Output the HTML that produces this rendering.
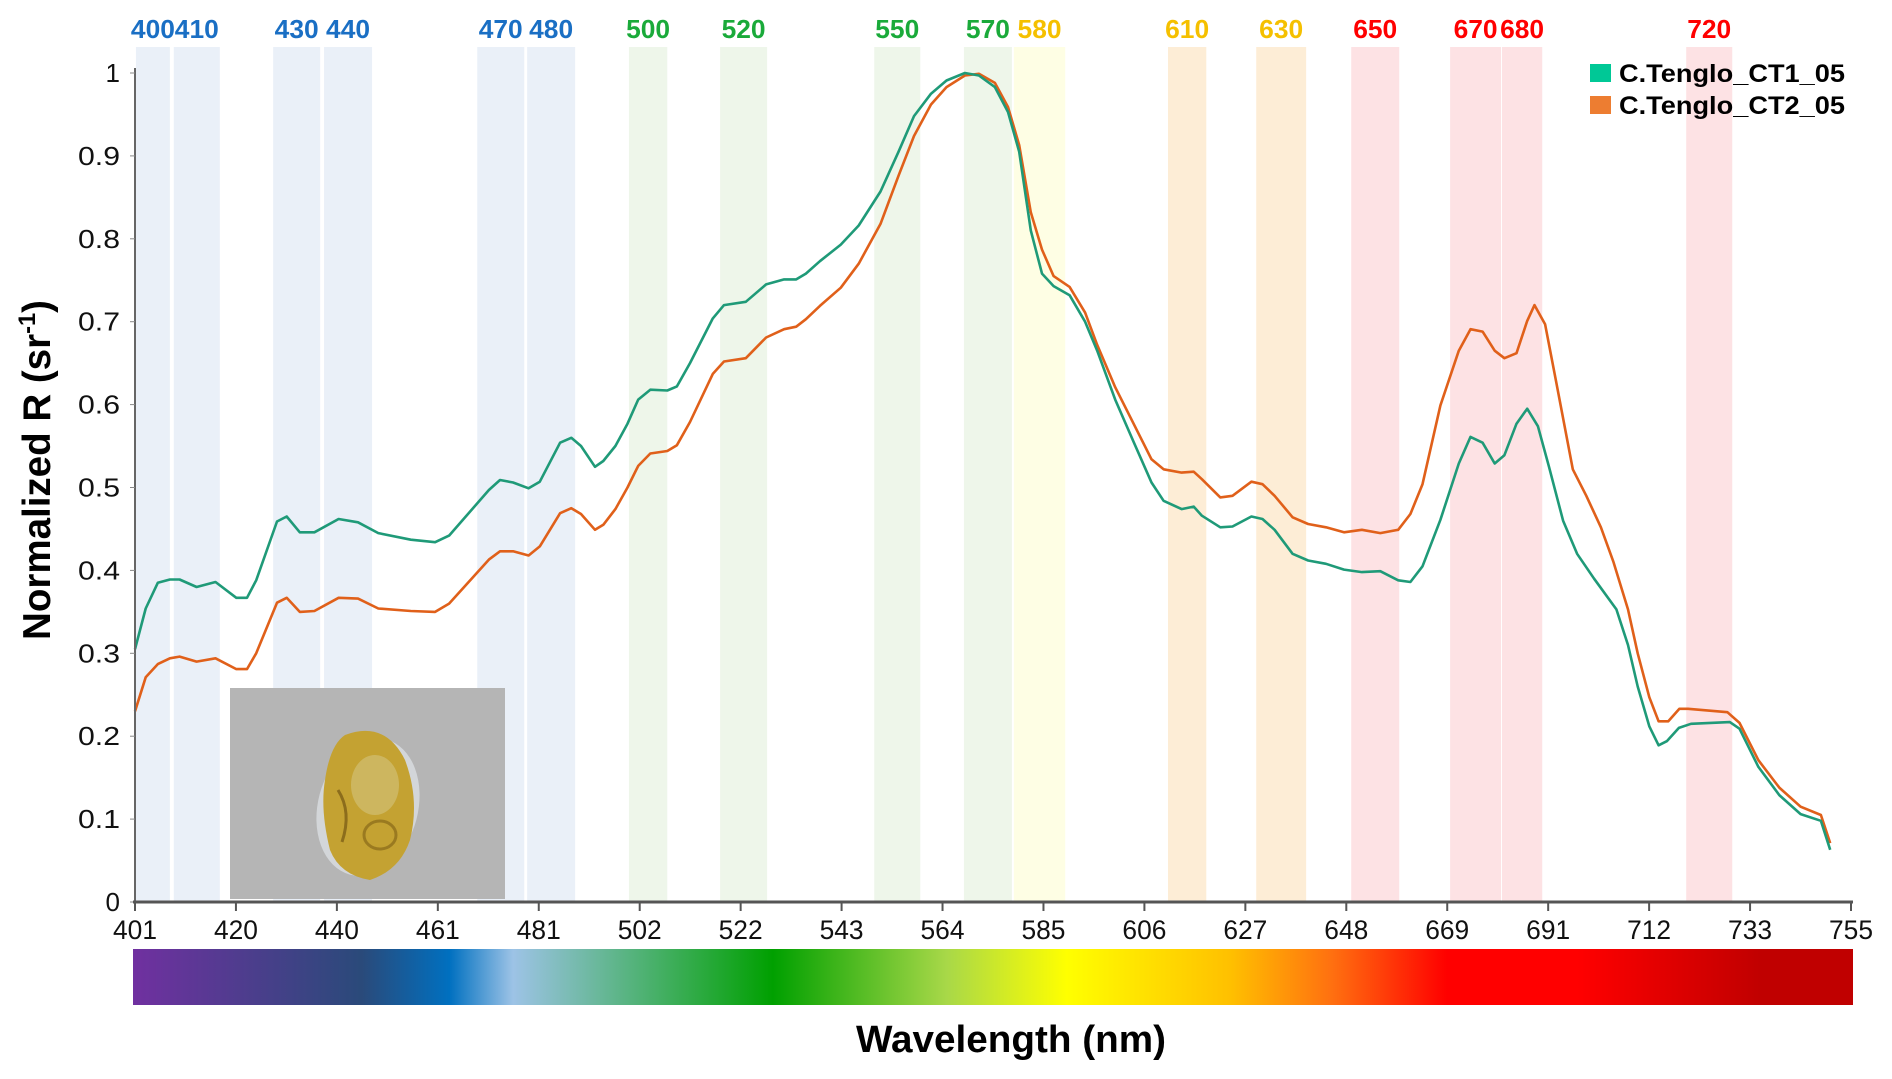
<!DOCTYPE html>
<html><head><meta charset="utf-8"><style>
html,body{margin:0;padding:0;background:#fff;}
svg{display:block;font-family:"Liberation Sans",sans-serif;}
</style></head><body>
<svg id="chart" width="1892" height="1079" viewBox="0 0 1892 1079" xmlns="http://www.w3.org/2000/svg">
<defs>
<linearGradient id="spec" x1="0" x2="1" y1="0" y2="0">
<stop offset="0" stop-color="#7030a0"/><stop offset="0.133" stop-color="#2a4a7a"/><stop offset="0.184" stop-color="#0070c0"/>
<stop offset="0.221" stop-color="#9dc3e6"/><stop offset="0.372" stop-color="#00a000"/><stop offset="0.473" stop-color="#a8d848"/>
<stop offset="0.543" stop-color="#ffff00"/><stop offset="0.638" stop-color="#ffc000"/><stop offset="0.697" stop-color="#ff7010"/>
<stop offset="0.764" stop-color="#ff0000"/><stop offset="0.84" stop-color="#ff0000"/><stop offset="0.947" stop-color="#c00000"/><stop offset="1" stop-color="#c00000"/>
</linearGradient>
</defs>
<g id="bands"></g>
<g id="photo">
<rect x="230" y="688" width="275" height="211" fill="#b5b5b5"/>
<ellipse cx="368" cy="807" rx="50" ry="70" transform="rotate(15 368 807)" fill="#e0e4e8" opacity="0.7"/>
<path d="M345 735 Q385 720 405 760 Q420 800 410 840 Q400 870 370 880 Q340 875 330 850 Q320 810 325 780 Q330 745 345 735 Z" fill="#c4a232"/>
<ellipse cx="375" cy="785" rx="24" ry="30" fill="#cfbc6a" opacity="0.8"/>
<ellipse cx="380" cy="835" rx="16" ry="14" fill="none" stroke="#9a7a20" stroke-width="3"/>
<path d="M338 790 Q352 812 342 842" stroke="#8c6d1c" stroke-width="3" fill="none"/>
</g>
<g id="series"></g>
<g id="axes"></g>
<rect x="133" y="949" width="1720" height="56" fill="url(#spec)"/>
<text x="1011" y="1052" text-anchor="middle" font-size="38" font-weight="bold" textLength="310" lengthAdjust="spacingAndGlyphs">Wavelength (nm)</text>
<text transform="translate(50 470) rotate(-90)" text-anchor="middle" font-size="39" font-weight="bold" textLength="340" lengthAdjust="spacingAndGlyphs">Normalized R (sr<tspan font-size="24" dy="-15">-1</tspan><tspan dy="15">)</tspan></text>
<g>
<rect x="1590" y="64" width="21" height="18" fill="#00c896"/>
<text x="1619" y="82" font-size="25" font-weight="bold" textLength="226" lengthAdjust="spacingAndGlyphs">C.Tenglo_CT1_05</text>
<rect x="1590" y="96" width="21" height="18" fill="#ed7d31"/>
<text x="1619" y="114" font-size="25" font-weight="bold" textLength="226" lengthAdjust="spacingAndGlyphs">C.Tenglo_CT2_05</text>
</g>
</svg>
<script>
const xTicks=[401,420,440,461,481,502,522,543,564,585,606,627,648,669,691,712,733,755];
const yTicks=[0,0.1,0.2,0.3,0.4,0.5,0.6,0.7,0.8,0.9,1];
const yTickLabels=["0","0.1","0.2","0.3","0.4","0.5","0.6","0.7","0.8","0.9","1"];
const bandLabels=["400","410","430","440","470","480","500","520","550","570","580","610","630","650","670","680","720"];
const bandStart=[401.2,409.0,429.5,440.0,471.6,481.9,502.9,521.7,553.5,572.0,582.3,614.1,632.3,651.9,672.3,683.0,721.0];
const bandEnd=[408.2,418.5,439.2,449.9,481.3,491.8,510.8,531.4,563.0,581.9,592.9,622.0,642.6,661.8,682.8,691.3,730.5];
const bandColor=["#eaf0f8","#eaf0f8","#eaf0f8","#eaf0f8","#eaf0f8","#eaf0f8","#eef6ea","#eef6ea","#eef6ea","#eef6ea","#fefee4","#fdedd6","#fdedd6","#fde2e4","#fde2e4","#fde2e4","#fde2e4"];
const labelColor=["#1a6fc4","#1a6fc4","#1a6fc4","#1a6fc4","#1a6fc4","#1a6fc4","#1aaa3a","#1aaa3a","#1aaa3a","#1aaa3a","#f5c000","#f5c000","#f5c000","#ff0000","#ff0000","#ff0000","#ff0000"];
const wlA=[401,403.2,405.7,408.2,410.2,413.7,417.6,421.9,424.1,426,430.3,432.3,435,438,443,447,451.2,457.9,462.9,465.8,474,476.3,479,482.2,484.5,488.7,491,493,495.9,497.6,500.1,502.6,504.8,507.3,510.8,512.8,515.5,520.2,522.5,527,531.2,534.9,537.4,539.4,542.3,546.6,550.3,554.8,558.5,561.7,565.2,568.4,572.2,575.1,578.4,581.1,583.4,585.8,588.1,590.5,593.8,597,599.5,603.2,607,610.7,613.2,616.9,619.4,621.1,624.9,627.4,631.3,633.6,636.1,639.8,643,646.7,650.4,654.1,657.9,661.6,664.1,666.6,670.3,674.1,676.5,679,681.5,683.5,686,688.2,690.4,692.7,695.6,698.5,702,706.6,709,711,713.4,715.3,717,719.5,722,730,732,735.9,740.2,744.6,748.8,750.7];
const ct1=[0.305,0.354,0.385,0.389,0.389,0.38,0.386,0.367,0.367,0.388,0.459,0.465,0.446,0.446,0.462,0.458,0.445,0.437,0.434,0.442,0.497,0.509,0.506,0.499,0.507,0.554,0.56,0.55,0.525,0.532,0.55,0.577,0.606,0.618,0.617,0.622,0.65,0.704,0.72,0.724,0.745,0.751,0.751,0.758,0.773,0.793,0.816,0.857,0.905,0.948,0.975,0.991,1.0,0.997,0.983,0.953,0.905,0.81,0.758,0.743,0.732,0.7,0.665,0.606,0.555,0.506,0.484,0.474,0.477,0.466,0.452,0.453,0.465,0.462,0.449,0.42,0.412,0.408,0.401,0.398,0.399,0.388,0.386,0.405,0.461,0.529,0.561,0.554,0.529,0.539,0.577,0.595,0.574,0.525,0.46,0.42,0.39,0.353,0.31,0.26,0.212,0.189,0.194,0.21,0.215,0.217,0.209,0.163,0.129,0.106,0.098,0.063];
const wlB=[401,403.2,405.7,408.2,410.2,413.7,417.6,421.9,424.1,426,430.3,432.3,435,438,443,447,451.2,457.9,462.9,465.8,474,476.3,479,482.2,484.5,488.7,491,493,495.9,497.6,500.1,502.6,504.8,507.3,510.8,512.8,515.5,520.2,522.5,527,531.2,534.9,537.4,539.4,542.3,546.6,550.3,554.8,558.5,561.7,565.2,568.4,572.2,575.1,578.4,581.1,583.4,585.8,588.1,590.5,593.8,597,599.5,603.2,607,610.7,613.2,616.9,619.4,621.1,624.9,627.4,631.3,633.6,636.1,639.8,643,646.7,650.4,654.1,657.9,661.6,664.1,666.6,670.3,674.1,676.5,679,681.5,683.5,686,688.2,689.7,691.9,694.4,697.6,700.4,703.4,706,709,711,713.4,715.3,717.3,719.6,721.4,729.5,732,735.9,740.2,744.6,748.8,750.7];
const ct2=[0.23,0.271,0.287,0.294,0.296,0.29,0.294,0.281,0.281,0.3,0.361,0.367,0.35,0.351,0.367,0.366,0.354,0.351,0.35,0.36,0.413,0.423,0.423,0.418,0.429,0.469,0.475,0.468,0.449,0.455,0.474,0.5,0.526,0.541,0.544,0.551,0.579,0.637,0.652,0.656,0.681,0.691,0.694,0.703,0.719,0.741,0.77,0.818,0.876,0.924,0.962,0.983,0.997,0.999,0.988,0.959,0.913,0.832,0.787,0.755,0.742,0.711,0.672,0.621,0.577,0.534,0.522,0.518,0.519,0.51,0.488,0.49,0.507,0.504,0.49,0.464,0.456,0.452,0.446,0.449,0.445,0.449,0.468,0.504,0.599,0.665,0.691,0.688,0.665,0.656,0.662,0.701,0.72,0.697,0.621,0.522,0.49,0.452,0.41,0.353,0.3,0.247,0.218,0.218,0.233,0.233,0.229,0.216,0.171,0.138,0.115,0.105,0.071];

const NS="http://www.w3.org/2000/svg";
const X0=135,X1=1851,Y0=902,Y1=73;
function xs(w){return X0+(w-401)/(755-401)*(X1-X0);}
function ys(v){return Y0-v*(Y0-Y1);}
function mk(tag,attrs,parent){const e=document.createElementNS(NS,tag);for(const k in attrs)e.setAttribute(k,attrs[k]);parent.appendChild(e);return e;}
const gB=document.getElementById('bands'),gA=document.getElementById('axes'),gS=document.getElementById('series');
bandLabels.forEach((lab,i)=>{
  const r=mk('rect',{x:xs(bandStart[i]),y:47,width:xs(bandEnd[i])-xs(bandStart[i]),height:Y0-47,fill:bandColor[i]},gB);
  
  
  const t=mk('text',{x:(xs(bandStart[i])+xs(bandEnd[i]))/2,y:38,'text-anchor':'middle','font-size':26,'font-weight':'bold',fill:labelColor[i],textLength:44,lengthAdjust:'spacingAndGlyphs'},gB);
  t.textContent=lab;
  
  
});
const ya=mk('line',{x1:X0,x2:X0,y1:Y1-5,y2:Y0,stroke:'#666','stroke-width':2},gA);


yTicks.forEach((v,i)=>{
  mk('line',{x1:X0-5,x2:X0,y1:ys(v),y2:ys(v),stroke:'#888','stroke-width':1},gA);
  const t=mk('text',{x:120,y:ys(v)+9,'text-anchor':'end','font-size':26,fill:'#111'},gA);
  if(yTickLabels[i].length>1){t.setAttribute('textLength',42);t.setAttribute('lengthAdjust','spacingAndGlyphs');}
  t.textContent=yTickLabels[i];
  
  
});
const xa=mk('line',{x1:X0-2,x2:X1+2,y1:Y0,y2:Y0,stroke:'#555','stroke-width':3},gA);


xTicks.forEach((w,i)=>{
  const x=X0+i*(X1-X0)/(xTicks.length-1);
  mk('line',{x1:x,x2:x,y1:Y0,y2:Y0+9,stroke:'#555','stroke-width':2},gA);
  const t=mk('text',{x:x,y:939,'text-anchor':'middle','font-size':27,fill:'#111',textLength:44,lengthAdjust:'spacingAndGlyphs'},gA);
  t.textContent=w;
  
  
});
function line(wl,vals,color,name){
  const d=wl.map((w,i)=>(i?'L':'M')+xs(w).toFixed(1)+' '+ys(vals[i]).toFixed(1)).join(' ');
  const p=mk('path',{d:d,fill:'none',stroke:color,'stroke-width':2.6,'stroke-linejoin':'round'},gS);
  
  
}
line(wlB,ct2,'#e0601a','line-ct2');
line(wlA,ct1,'#1f9a78','line-ct1');
</script>
</body></html>
